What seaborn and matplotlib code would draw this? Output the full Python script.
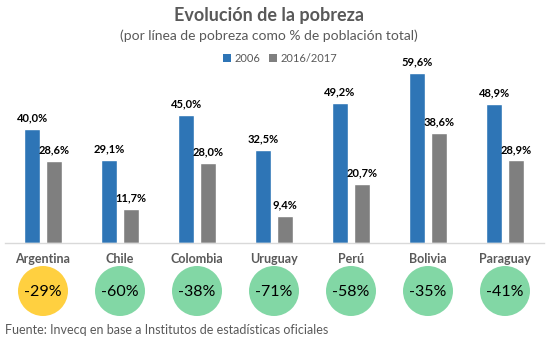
import matplotlib
matplotlib.use("Agg")
import matplotlib.pyplot as plt
import seaborn as sns
import pandas as pd

countries = ["Argentina", "Chile", "Colombia", "Uruguay", "Perú", "Bolivia", "Paraguay"]
values_2006 = [40.0, 29.1, 45.0, 32.5, 49.2, 59.6, 48.9]
values_2017 = [28.6, 11.7, 28.0, 9.4, 20.7, 38.6, 28.9]
series = ["2006", "2016/2017"]
changes = ["-29%", "-60%", "-38%", "-71%", "-58%", "-35%", "-41%"]
circle_colors = ["#FFD040", "#82D7A5", "#82D7A5", "#82D7A5", "#82D7A5", "#82D7A5", "#82D7A5"]

df = pd.DataFrame({
    "country": countries * 2,
    "serie": [series[0]] * len(countries) + [series[1]] * len(countries),
    "value": values_2006 + values_2017,
})

sns.set_theme(style="white")
plt.rcParams['font.family'] = ['Lato', 'DejaVu Sans']

W, H = 546, 340
fig = plt.figure(figsize=(W / 100, H / 100), dpi=100)

def box(x0, y0, x1, y1):
    return [x0 / W, 1 - y1 / H, (x1 - x0) / W, (y1 - y0) / H]

# main bar axes: baseline at y=242.5px, 2.8375 px per %
base = 242.5
ppu = 2.8375
top = 70
ax = fig.add_axes(box(4.5, top, 543.5, base))
palette = {"2006": "#2E75B6", "2016/2017": "#7F7F7F"}
sns.barplot(data=df, x="country", y="value", hue="serie", palette=palette,
            width=0.572, gap=0.23, ax=ax, legend=False, saturation=1)
ax.set_xlim(-0.5, len(countries) - 0.5)
ax.set_ylim(0, (base - top) / ppu)
ax.set_xlabel("")
ax.set_ylabel("")
ax.set_xticks([])
ax.set_yticks([])
for s in ["top", "left", "right"]:
    ax.spines[s].set_visible(False)
ax.spines["bottom"].set_color("#D9D9D9")
ax.spines["bottom"].set_linewidth(1)
ax.patch.set_alpha(0)

for cont in ax.containers:
    labels = [f"{b.get_height():.1f}%".replace(".", ",") for b in cont]
    ax.bar_label(cont, labels=labels, padding=4, fontsize=8, fontweight="bold", color="#000000")

# lower axes for country labels and circles (pixel y units)
ax2 = fig.add_axes(box(4.5, 245, 543.5, 322))
ax2.set_xlim(-0.5, len(countries) - 0.5)
ax2.set_ylim(322, 245)
ax2.axis("off")
xs = list(range(len(countries)))
ax2.scatter(xs, [291] * len(xs), s=36 ** 2, c=circle_colors, linewidths=0, zorder=2)
for i, (c, ch) in enumerate(zip(countries, changes)):
    ax2.text(i, 259, c, ha="center", va="center", fontsize=9, fontweight="bold", color="#595959")
    ax2.text(i, 291.5, ch, ha="center", va="center", fontsize=11.5, color="#000000", zorder=3)

# titles
fig.text(269 / W, 1 - 15 / H, "Evolución de la pobreza", ha="center", va="center",
         fontsize=13, fontweight="bold", color="#595959")
fig.text(269 / W, 1 - 36 / H, "(por línea de pobreza como % de población total)", ha="center",
         va="center", fontsize=10, color="#595959")

# legend
from matplotlib.patches import Patch
handles = [Patch(facecolor=palette[s], edgecolor="none", label=s) for s in series]
fig.legend(handles=handles, loc="center", bbox_to_anchor=(280 / W, 1 - 58 / H), ncol=2,
           frameon=False, fontsize=8, handlelength=0.7, handleheight=0.7,
           handletextpad=0.3, columnspacing=0.8, labelcolor="#595959")

fig.text(5 / W, 1 - 330 / H, "Fuente: Invecq en base a Institutos de estadísticas oficiales",
         ha="left", va="center", fontsize=9, color="#595959")

fig.savefig("out.png", dpi=100)
